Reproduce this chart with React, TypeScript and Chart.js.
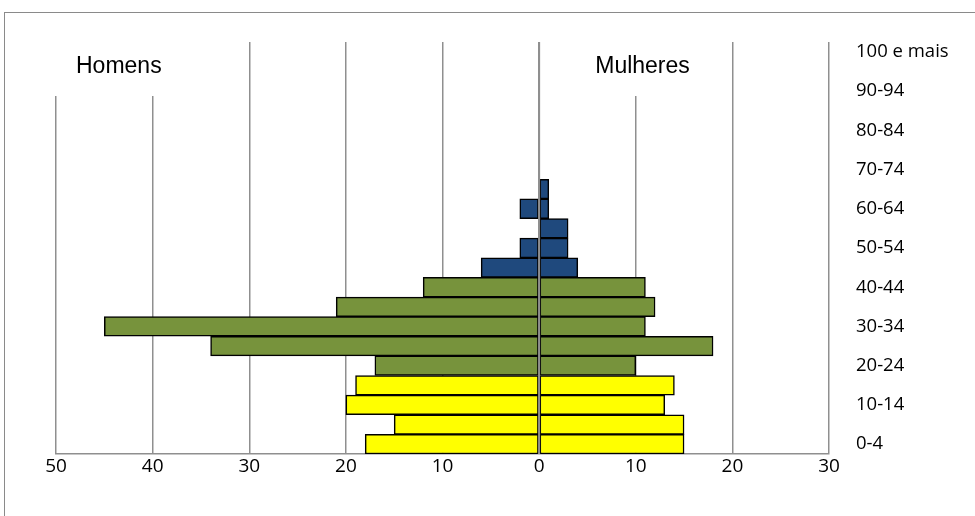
import { useEffect, useRef } from 'react';
import { Chart, registerables } from 'chart.js';

Chart.register(...registerables);

// Age groups, youngest first
const idades = [
  '0-4', '5-9', '10-14', '15-19', '20-24', '25-29', '30-34', '35-39', '40-44', '45-49',
  '50-54', '55-59', '60-64', '65-69', '70-74', '75-79', '80-84', '85-89', '90-94', '95-99',
  '100 e mais',
];

// Counts per age group
const homens = [18, 15, 20, 19, 17, 34, 45, 21, 12, 6, 2, 0, 2, 0, 0, 0, 0, 0, 0, 0, 0];
const mulheres = [15, 15, 13, 14, 10, 18, 11, 12, 11, 4, 3, 3, 1, 1, 0, 0, 0, 0, 0, 0, 0];

// Band colour for each age group: young, working age, older
const corJovem = '#FFFF00';
const corAdulto = '#77933C';
const corIdoso = '#1F497D';
const limiteJovem = 3; // last index of the young band (15-19)
const limiteAdulto = 8; // last index of the working-age band (40-44)

const xTicks = [-50, -40, -30, -20, -10, 0, 10, 20, 30];

const GRID = '#8f8f8f';
const LABEL_FONT = '"Open Sans", "Noto Sans", sans-serif';

const cores = idades.map((_, i) =>
  i <= limiteJovem ? corJovem : i <= limiteAdulto ? corAdulto : corIdoso
);

const overlayPlugin = {
  id: 'overlay',
  afterDatasetsDraw(chart: any) {
    const { ctx, chartArea, scales } = chart;
    const x0 = scales.x.getPixelForValue(0);
    ctx.save();
    ctx.strokeStyle = GRID;
    ctx.lineWidth = 2;
    ctx.beginPath();
    ctx.moveTo(x0, chartArea.top);
    ctx.lineTo(x0, chartArea.bottom);
    ctx.stroke();
    ctx.restore();
  },
  afterDraw(chart: any) {
    const { ctx, chartArea, scales } = chart;
    const x = scales.x;
    ctx.save();
    // outer frame
    ctx.strokeStyle = '#8a8a8a';
    ctx.lineWidth = 1;
    ctx.strokeRect(4.5, 12.5, 1200, 800);

    const top = chartArea.top - 2;
    const boxH = 56;
    const label = (text: string, centre: number, left: number, right: number) => {
      ctx.fillStyle = '#ffffff';
      ctx.fillRect(x.getPixelForValue(left), top, x.getPixelForValue(right) - x.getPixelForValue(left), boxH);
      ctx.fillStyle = '#000000';
      ctx.font = '23px "Liberation Sans", Arial, sans-serif';
      ctx.textAlign = 'center';
      ctx.textBaseline = 'middle';
      ctx.fillText(text, x.getPixelForValue(centre), top + 27);
    };
    label('Homens', -43.5, -50.8, -36.5);
    label('Mulheres', 10.7, 4.5, 16.5);
    ctx.restore();
  },
};

export default function App() {
  const ref = useRef<HTMLCanvasElement | null>(null);

  useEffect(() => {
    document.body.style.margin = '0';
    const canvas = ref.current;
    if (!canvas) return;
    const chart = new Chart(canvas, {
      type: 'bar',
      data: {
        labels: idades,
        datasets: [
          {
            label: 'Homens',
            data: homens.map((v) => -v),
            backgroundColor: cores,
            borderColor: '#000000',
            borderWidth: 1.5,
            borderSkipped: false,
            barPercentage: 1,
            categoryPercentage: 1,
          },
          {
            label: 'Mulheres',
            data: mulheres,
            backgroundColor: cores,
            borderColor: '#000000',
            borderWidth: 1.5,
            borderSkipped: false,
            barPercentage: 1,
            categoryPercentage: 1,
          },
        ],
      },
      options: {
        indexAxis: 'y',
        responsive: false,
        animation: false,
        layout: { padding: { left: 56, top: 42, right: 0, bottom: 0 } },
        plugins: {
          legend: { display: false },
          tooltip: { enabled: false },
        },
        scales: {
          x: {
            type: 'linear',
            stacked: true,
            min: -50,
            max: 30,
            afterBuildTicks: (axis: any) => {
              axis.ticks = xTicks.map((v) => ({ value: v }));
            },
            afterFit: (axis: any) => {
              axis.height = 62;
            },
            grid: {
              color: GRID,
              lineWidth: 1.5,
              drawTicks: false,
            },
            border: { display: true, color: GRID, width: 1.5 },
            ticks: {
              padding: 1,
              color: '#000000',
              font: { family: LABEL_FONT, size: 19 },
              callback: (v: any) => String(Math.abs(Number(v))),
            },
          },
          y: {
            type: 'category',
            position: 'right',
            stacked: true,
            reverse: true,
            afterFit: (axis: any) => {
              axis.width = 146;
            },
            grid: { display: false, drawTicks: false },
            border: { display: false },
            ticks: {
              autoSkip: false,
              padding: 27,
              color: '#000000',
              font: { family: LABEL_FONT, size: 18.5 },
              callback: (_v: any, i: number) => (i % 2 === 0 ? idades[i] : ''),
            },
          },
        },
      },
      plugins: [overlayPlugin],
    } as any);
    return () => chart.destroy();
  }, []);

  return (
    <div style={{ width: 975, height: 516, background: '#ffffff' }}>
      <canvas ref={ref} width={975} height={516} />
    </div>
  );
}
